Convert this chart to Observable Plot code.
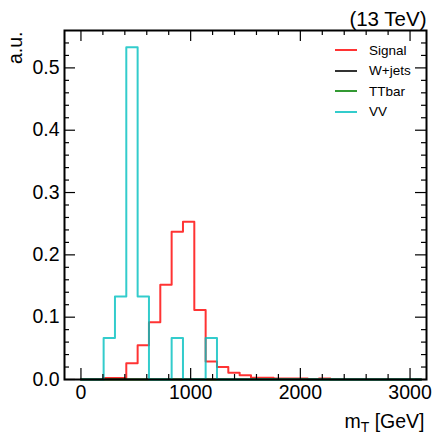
<!DOCTYPE html>
<html>
<head>
<meta charset="utf-8">
<script src="https://cdn.jsdelivr.net/npm/d3@7"></script>
<script src="https://cdn.jsdelivr.net/npm/@observablehq/plot@0.6"></script>
<style>
  html, body { margin: 0; padding: 0; background: #fff; }
  #wrap { position: relative; width: 440px; height: 440px; font-family: "Liberation Sans", Arial, Helvetica, sans-serif; }
  #legend { position: absolute; left: 335px; top: 40px; font-size: 13.5px; color: #000; }
  #legend .row { display: flex; align-items: center; height: 20.5px; }
  #legend .sw { width: 22px; height: 2px; margin-right: 12px; }
</style>
</head>
<body>
<div id="wrap"></div>
<script>
// Histogram bin edges (GeV)
const binEdges = [0, 103.3, 206.7, 310, 413.3, 516.7, 620, 723.3, 826.7, 930, 1033.3, 1136.7, 1240, 1343.3, 1446.7, 1550, 1653.3, 1756.7, 1860, 1963.3, 2066.7, 2170, 2273.3, 2376.7, 2480, 2583.3, 2686.7, 2790, 2893.3, 2996.7, 3100];

// Normalised bin contents (a.u.)
const signal = [0, 0, 0.0025, 0.0025, 0.026, 0.055, 0.092, 0.152, 0.237, 0.253, 0.1115, 0.029, 0.020, 0.011, 0.007, 0.003, 0.003, 0.0017, 0.0017, 0.0017, 0, 0.0017, 0, 0, 0, 0, 0, 0, 0, 0];
const wjets  = [0, 0, 0, 0, 0, 0, 0, 0, 0, 0, 0, 0, 0, 0, 0, 0, 0, 0, 0, 0, 0, 0, 0, 0, 0, 0, 0, 0, 0, 0];
const ttbar  = [0, 0, 0, 0, 0, 0, 0, 0, 0, 0, 0, 0, 0, 0, 0, 0, 0, 0, 0, 0, 0, 0, 0, 0, 0, 0, 0, 0, 0, 0];
const vv     = [0, 0, 0.0667, 0.1333, 0.5333, 0.1333, 0, 0, 0.0667, 0, 0, 0.0667, 0, 0, 0, 0, 0, 0, 0, 0, 0, 0, 0, 0, 0, 0, 0, 0, 0, 0];

const seriesNames  = ["Signal", "W+jets", "TTbar", "VV"];
const seriesValues = [signal, wjets, ttbar, vv];
const seriesColors = ["red", "black", "green", "#00bfbf"];

// Axis ticks
const xMajor = [0, 1000, 2000, 3000];
const xMinor = [200, 400, 600, 800, 1200, 1400, 1600, 1800, 2200, 2400, 2600, 2800];
const yMajor = [0, 0.1, 0.2, 0.3, 0.4, 0.5];
const yMinor = [0.02, 0.04, 0.06, 0.08, 0.12, 0.14, 0.16, 0.18, 0.22, 0.24, 0.26, 0.28, 0.32, 0.34, 0.36, 0.38, 0.42, 0.44, 0.46, 0.48, 0.52, 0.54];

const W = 440, H = 440;
const mL = 64, mR = 14, mT = 30, mB = 61;
const fw = W - mL - mR, fh = H - mT - mB;
const majLen = 11, minLen = 5;

function stepPoints(vals) {
  const pts = [{x: binEdges[0], y: 0}];
  vals.forEach((v, i) => pts.push({x: binEdges[i], y: v}));
  pts.push({x: binEdges[binEdges.length - 1], y: 0});
  return pts;
}

const FONT = "Liberation Sans, Arial, Helvetica, sans-serif";

const marks = [];
seriesValues.forEach((vals, i) => {
  marks.push(Plot.line(stepPoints(vals), {x: "x", y: "y", curve: "step-after", stroke: seriesColors[i], strokeOpacity: 0.8, strokeWidth: 2}));
});
// inward ticks on all four sides
marks.push(
  Plot.ruleX(xMajor, {x: d => d, insetTop: fh - majLen, stroke: "black", strokeWidth: 1.2}),
  Plot.ruleX(xMinor, {x: d => d, insetTop: fh - minLen, stroke: "black", strokeWidth: 1.2}),
  Plot.ruleX(xMajor, {x: d => d, insetBottom: fh - majLen, stroke: "black", strokeWidth: 1.2}),
  Plot.ruleX(xMinor, {x: d => d, insetBottom: fh - minLen, stroke: "black", strokeWidth: 1.2}),
  Plot.ruleY(yMajor, {y: d => d, insetRight: fw - majLen, stroke: "black", strokeWidth: 1.2}),
  Plot.ruleY(yMinor, {y: d => d, insetRight: fw - minLen, stroke: "black", strokeWidth: 1.2}),
  Plot.ruleY(yMajor, {y: d => d, insetLeft: fw - majLen, stroke: "black", strokeWidth: 1.2}),
  Plot.ruleY(yMinor, {y: d => d, insetLeft: fw - minLen, stroke: "black", strokeWidth: 1.2}),
  Plot.axisX(xMajor, {tickSize: 0, tickPadding: 6, fontSize: 19.5, tickFormat: d3.format("d"), label: null, fill: "black"}),
  Plot.axisY(yMajor, {tickSize: 0, tickPadding: 5, fontSize: 19.5, tickFormat: d3.format(".1f"), label: null, fill: "black"}),
  Plot.frame({stroke: "black", strokeWidth: 2}),
  Plot.text(["(13 TeV)"], {text: d => d, frameAnchor: "top-right", textAnchor: "end", lineAnchor: "bottom", dy: -5, fontSize: 20.5, fill: "black"}),
  Plot.text(["a.u."], {text: d => d, frameAnchor: "top-left", textAnchor: "end", rotate: -90, dx: -56, dy: 1, fontSize: 19.5, fill: "black"}),
  Plot.text(["mT [GeV]"], {text: d => d, frameAnchor: "bottom-right", textAnchor: "end", lineAnchor: "bottom", dy: 48, dx: -2, fontSize: 19.5, fill: "black"})
);

const chart = Plot.plot({
  width: W, height: H,
  marginLeft: mL, marginRight: mR, marginTop: mT, marginBottom: mB,
  style: {fontFamily: FONT, background: "white", color: "black"},
  x: {domain: [-150, 3150], axis: null},
  y: {domain: [0, 0.56], axis: null},
  marks
});

// subscript T in x label
chart.querySelectorAll("text").forEach(t => {
  if (t.textContent === "mT [GeV]") {
    t.textContent = "";
    const ns = "http://www.w3.org/2000/svg";
    const a = document.createElementNS(ns, "tspan"); a.textContent = "m";
    const b = document.createElementNS(ns, "tspan"); b.textContent = "T"; b.setAttribute("dy", "4"); b.setAttribute("font-size", "14");
    const c = document.createElementNS(ns, "tspan"); c.textContent = "\u00a0[GeV]"; c.setAttribute("dy", "-4");
    t.append(a, b, c);
  }
});

const wrap = document.getElementById("wrap");
wrap.appendChild(chart);

const legend = document.createElement("div");
legend.id = "legend";
seriesNames.forEach((name, i) => {
  const row = document.createElement("div"); row.className = "row";
  const sw = document.createElement("span"); sw.className = "sw";
  sw.style.background = seriesColors[i]; sw.style.opacity = 0.8;
  const lab = document.createElement("span"); lab.textContent = name;
  row.append(sw, lab);
  legend.appendChild(row);
});
wrap.appendChild(legend);
</script>
</body>
</html>
